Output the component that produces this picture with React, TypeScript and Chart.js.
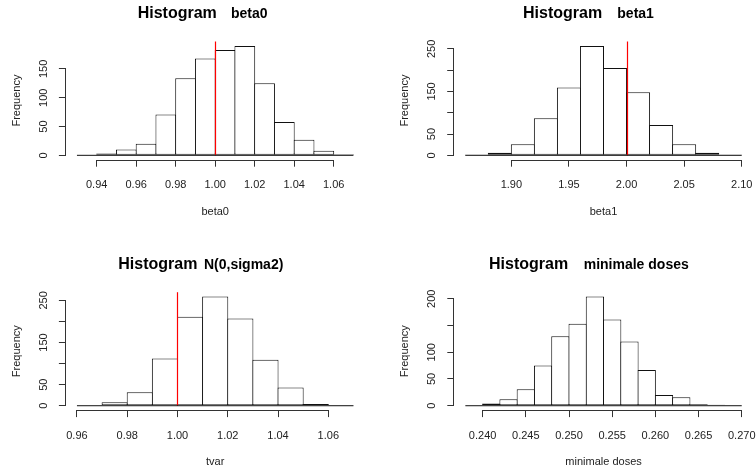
import React, { useEffect, useRef } from 'react';
import { Chart, registerables } from 'chart.js';

Chart.register(...registerables);

// ---------------- data ----------------
const mainTitle = 'Histogram';
const yAxisTitle = 'Frequency';

// beta0
const beta0Breaks = [0.93, 0.94, 0.95, 0.96, 0.97, 0.98, 0.99, 1.0, 1.01, 1.02, 1.03, 1.04, 1.05, 1.06, 1.07];
const beta0Counts = [1, 3, 10, 20, 71, 134, 168, 183, 190, 125, 58, 27, 8, 2];
const beta0XTicks = [0.94, 0.96, 0.98, 1.0, 1.02, 1.04, 1.06];
const beta0XLabels = ['0.94', '0.96', '0.98', '1.00', '1.02', '1.04', '1.06'];
const beta0YTicks = [0, 50, 100, 150];
const beta0YLabels = ['0', '50', '100', '150'];
const beta0Ref = 1.0;

// beta1
const beta1Breaks = [1.86, 1.88, 1.9, 1.92, 1.94, 1.96, 1.98, 2.0, 2.02, 2.04, 2.06, 2.08, 2.1];
const beta1Counts = [2, 6, 26, 87, 159, 257, 205, 148, 71, 26, 6, 1];
const beta1XTicks = [1.9, 1.95, 2.0, 2.05, 2.1];
const beta1XLabels = ['1.90', '1.95', '2.00', '2.05', '2.10'];
const beta1YTicks = [0, 50, 100, 150, 200, 250];
const beta1YLabels = ['0', '50', '', '150', '', '250'];
const beta1Ref = 2.0;

// tvar  (N(0,sigma2))
const tvarBreaks = [0.96, 0.97, 0.98, 0.99, 1.0, 1.01, 1.02, 1.03, 1.04, 1.05, 1.06, 1.07];
const tvarCounts = [1, 8, 32, 112, 211, 259, 207, 109, 43, 4, 2];
const tvarXTicks = [0.96, 0.98, 1.0, 1.02, 1.04, 1.06];
const tvarXLabels = ['0.96', '0.98', '1.00', '1.02', '1.04', '1.06'];
const tvarYTicks = [0, 50, 100, 150, 200, 250];
const tvarYLabels = ['0', '50', '', '150', '', '250'];
const tvarRef = 1.0;

// minimale doses
const dosesBreaks = [0.238, 0.24, 0.242, 0.244, 0.246, 0.248, 0.25, 0.252, 0.254, 0.256, 0.258, 0.26, 0.262, 0.264, 0.266, 0.268, 0.27];
const dosesCounts = [1, 4, 12, 31, 75, 130, 153, 204, 161, 120, 67, 20, 16, 3, 2, 1];
const dosesXTicks = [0.24, 0.245, 0.25, 0.255, 0.26, 0.265, 0.27];
const dosesXLabels = ['0.240', '0.245', '0.250', '0.255', '0.260', '0.265', '0.270'];
const dosesYTicks = [0, 50, 100, 150, 200];
const dosesYLabels = ['0', '50', '100', '', '200'];

// ---------------- styles / layout ----------------
const FONT_FAMILY = '"Liberation Sans", Arial, Helvetica, sans-serif';
const TEXT_COLOR = '#222';
const AXIS_COLOR = '#333';
const BAR_BORDER = '#111';
const REF_COLOR = '#ff0000';
const Y_AXIS_W = 60;
const X_AXIS_H = 60;

type PanelDef = {
  key: string;
  left: number; top: number; w: number; h: number;
  plot: { l: number; t: number; r: number; b: number };
  titleX: number; subX: number; titleY: number;
  sub: string; xTitle: string;
  breaks: number[]; counts: number[];
  xTicks: number[]; xLabels: string[];
  yTicks: number[]; yLabels: string[];
  ref: number | null;
};

const panels: PanelDef[] = [
  {
    key: 'beta0', left: 0, top: 0, w: 378, h: 250,
    plot: { l: 65.9, t: 41.5, r: 364.5, b: 159.7 },
    titleX: 137.7, subX: 231, titleY: 18.3,
    sub: 'beta0', xTitle: 'beta0',
    breaks: beta0Breaks, counts: beta0Counts,
    xTicks: beta0XTicks, xLabels: beta0XLabels,
    yTicks: beta0YTicks, yLabels: beta0YLabels, ref: beta0Ref,
  },
  {
    key: 'beta1', left: 378, top: 0, w: 378, h: 250,
    plot: { l: 76.2, t: 41.5, r: 374.8, b: 159.7 },
    titleX: 145, subX: 239.3, titleY: 18.3,
    sub: 'beta1', xTitle: 'beta1',
    breaks: beta1Breaks, counts: beta1Counts,
    xTicks: beta1XTicks, xLabels: beta1XLabels,
    yTicks: beta1YTicks, yLabels: beta1YLabels, ref: beta1Ref,
  },
  {
    key: 'tvar', left: 0, top: 250, w: 378, h: 222,
    plot: { l: 65.9, t: 42.2, r: 364.5, b: 160.1 },
    titleX: 118.3, subX: 204, titleY: 19.3,
    sub: 'N(0,sigma2)', xTitle: 'tvar',
    breaks: tvarBreaks, counts: tvarCounts,
    xTicks: tvarXTicks, xLabels: tvarXLabels,
    yTicks: tvarYTicks, yLabels: tvarYLabels, ref: tvarRef,
  },
  {
    key: 'doses', left: 378, top: 250, w: 378, h: 222,
    plot: { l: 76.3, t: 42.2, r: 374.8, b: 160.1 },
    titleX: 111, subX: 205.7, titleY: 19.3,
    sub: 'minimale doses', xTitle: 'minimale doses',
    breaks: dosesBreaks, counts: dosesCounts,
    xTicks: dosesXTicks, xLabels: dosesXLabels,
    yTicks: dosesYTicks, yLabels: dosesYLabels, ref: null,
  },
];

function HistPanel({ p }: { p: PanelDef }) {
  const ref = useRef<HTMLCanvasElement | null>(null);

  useEffect(() => {
    if (!ref.current) return;
    const n = p.breaks.length;
    const range = p.breaks[n - 1] - p.breaks[0];
    const xMin = p.breaks[0] - 0.04 * range;
    const xMax = p.breaks[n - 1] + 0.04 * range;
    const cMax = Math.max(...p.counts);
    const yMin = -0.04 * cMax;
    const yMax = 1.04 * cMax;
    const plotW = p.plot.r - p.plot.l;
    const binPx = ((p.breaks[1] - p.breaks[0]) / (xMax - xMin)) * plotW;
    const barPct = (binPx + 1) / binPx;

    const data = p.counts.map((c, i) => ({ x: (p.breaks[i] + p.breaks[i + 1]) / 2, y: c }));
    const font = { family: FONT_FAMILY, size: 11 };

    const decor = {
      id: 'decor' + p.key,
      afterDatasetsDraw(chart: any) {
        const { ctx, chartArea, scales } = chart;
        const x = scales.x;
        const y = scales.y;
        ctx.save();
        const y0 = y.getPixelForValue(0);
        if (p.ref !== null) {
          const xr = Math.round(x.getPixelForValue(p.ref)) + 0.5;
          ctx.strokeStyle = REF_COLOR;
          ctx.lineWidth = 1.2;
          ctx.beginPath();
          ctx.moveTo(xr, chartArea.top);
          ctx.lineTo(xr, y0);
          ctx.stroke();
        }
        ctx.strokeStyle = BAR_BORDER;
        ctx.lineWidth = 1;
        ctx.beginPath();
        ctx.moveTo(x.getPixelForValue(p.breaks[0]), y0);
        ctx.lineTo(x.getPixelForValue(p.breaks[n - 1]), y0);
        ctx.stroke();
        // axis lines spanning first..last tick
        ctx.strokeStyle = AXIS_COLOR;
        ctx.beginPath();
        const yb = Math.round(chartArea.bottom) + 0.5;
        ctx.moveTo(x.getPixelForValue(p.xTicks[0]), yb);
        ctx.lineTo(x.getPixelForValue(p.xTicks[p.xTicks.length - 1]), yb);
        const xl = Math.round(chartArea.left) - 0.5;
        ctx.moveTo(xl, y.getPixelForValue(p.yTicks[0]));
        ctx.lineTo(xl, y.getPixelForValue(p.yTicks[p.yTicks.length - 1]));
        ctx.stroke();
        // titles
        ctx.fillStyle = '#000';
        ctx.textAlign = 'left';
        ctx.textBaseline = 'alphabetic';
        ctx.font = 'bold 16px ' + FONT_FAMILY;
        ctx.fillText(mainTitle, p.titleX, p.titleY);
        ctx.font = 'bold 14px ' + FONT_FAMILY;
        ctx.fillText(p.sub, p.subX, p.titleY);
        ctx.restore();
      },
    };

    const zeroPad = (s: any) => {
      s.paddingLeft = 0; s.paddingRight = 0; s.paddingTop = 0; s.paddingBottom = 0;
    };

    const chart = new Chart(ref.current, {
      type: 'bar',
      data: {
        datasets: [
          {
            data,
            backgroundColor: '#ffffff',
            borderColor: BAR_BORDER,
            borderWidth: 1,
            borderSkipped: false,
            barPercentage: barPct,
            categoryPercentage: 1,
            inflateAmount: 0,
          } as any,
        ],
      },
      options: {
        responsive: false,
        animation: false,
        devicePixelRatio: 1,
        events: [],
        layout: {
          padding: {
            left: p.plot.l - Y_AXIS_W,
            top: p.plot.t,
            right: p.w - p.plot.r,
            bottom: p.h - p.plot.b - X_AXIS_H,
          },
        },
        plugins: { legend: { display: false }, tooltip: { enabled: false }, title: { display: false } },
        scales: {
          x: {
            type: 'linear',
            min: xMin,
            max: xMax,
            bounds: 'data',
            offset: false,
            afterBuildTicks: (s: any) => { s.ticks = p.xTicks.map((v) => ({ value: v })); },
            afterFit: (s: any) => { s.height = X_AXIS_H; zeroPad(s); },
            ticks: {
              autoSkip: false,
              minRotation: 0,
              maxRotation: 0,
              padding: 12,
              font,
              color: TEXT_COLOR,
              callback: (_v: any, i: number) => p.xLabels[i],
            },
            grid: { offset: false, drawOnChartArea: false, drawTicks: true, tickLength: 7, color: AXIS_COLOR, lineWidth: 1 },
            border: { display: false },
            title: { display: true, text: p.xTitle, font, color: TEXT_COLOR, padding: { top: 0, bottom: 1.4 } },
          } as any,
          y: {
            type: 'linear',
            min: yMin,
            max: yMax,
            bounds: 'data',
            afterBuildTicks: (s: any) => { s.ticks = p.yTicks.map((v) => ({ value: v })); },
            afterFit: (s: any) => { s.width = Y_AXIS_W; zeroPad(s); },
            ticks: {
              autoSkip: false,
              minRotation: 90,
              maxRotation: 90,
              crossAlign: 'center',
              padding: 5.8,
              font,
              color: TEXT_COLOR,
              callback: (_v: any, i: number) => p.yLabels[i],
            },
            grid: { drawOnChartArea: false, drawTicks: true, tickLength: 7, color: AXIS_COLOR, lineWidth: 1 },
            border: { display: false },
            title: { display: true, text: yAxisTitle, font, color: TEXT_COLOR, padding: { top: 4.4, bottom: 0 } },
          } as any,
        },
      },
      plugins: [decor],
    });
    return () => chart.destroy();
  }, [p]);

  return (
    <canvas
      ref={ref}
      width={p.w}
      height={p.h}
      style={{ position: 'absolute', left: p.left, top: p.top, width: p.w, height: p.h }}
    />
  );
}

export default function App() {
  return (
    <div
      style={{
        position: 'fixed',
        left: 0,
        top: 0,
        width: 756,
        height: 472,
        background: '#ffffff',
        overflow: 'hidden',
      }}
    >
      {panels.map((p) => (
        <HistPanel key={p.key} p={p} />
      ))}
    </div>
  );
}
